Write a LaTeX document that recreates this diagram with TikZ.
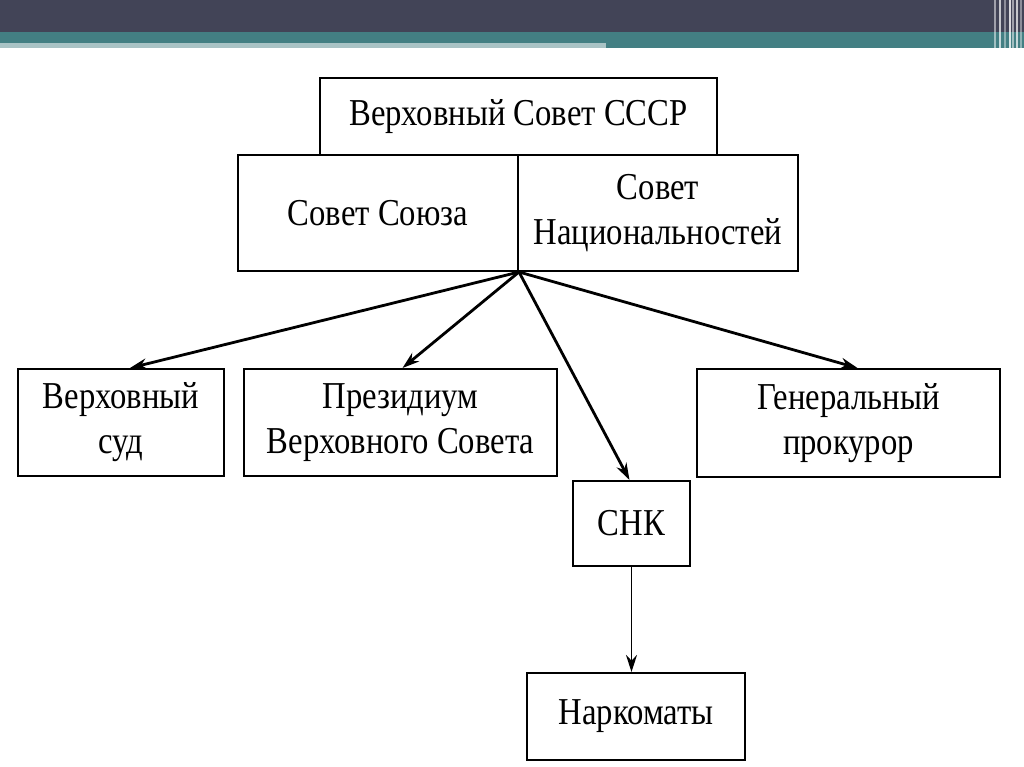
\documentclass[tikz,border=0pt]{standalone}
\usepackage{fontspec}
\setmainfont[FakeStretch=0.86]{Liberation Serif}
\usetikzlibrary{arrows.meta,positioning}
\definecolor{barDark}{HTML}{424457}
\definecolor{barTeal}{HTML}{437F83}
\definecolor{barLight}{HTML}{A9C3C5}
\begin{document}
\begin{tikzpicture}[x=1pt,y=-1pt,>={Stealth[length=17pt,width=11pt]},
  organ/.style={draw,line width=2pt,inner sep=0pt,align=center,
    font=\fontsize{38}{45}\selectfont},
  link/.style={->,line width=2.8pt}]
  \useasboundingbox (0,0) rectangle (1024,767);
  % slide header
  \fill[barDark] (0,0) rectangle (1024,32);
  \fill[barTeal] (0,32) rectangle (1024,48);
  \fill[barLight] (0,43) rectangle (606,48);
  \foreach \xs/\op in {995/0.5,1000/0.7,1005/0.4,1010/0.8,1013/0.5,1017/0.7,1021/0.4}
    \draw[white,opacity=\op,line width=1.2pt] (\xs,0) -- (\xs,48);
  % organs
  \node[organ,minimum width=397pt,minimum height=77pt] (sovet) at (518.5,116.5)
    {Верховный Совет СССР};
  \node[organ,minimum width=280pt,minimum height=116pt] (soyuz) at (378,213)
    {Совет Союза};
  \node[organ,minimum width=280pt,minimum height=116pt] (nats) at (658,213)
    {Совет\\Национальностей};
  \node[organ,minimum width=206pt,minimum height=107pt] (sud) at (121,422.5)
    {Верховный\\суд};
  \node[organ,minimum width=313pt,minimum height=107pt] (prez) at (400.5,422.5)
    {Президиум\\Верховного Совета};
  \node[organ,minimum width=303pt,minimum height=108pt] (prok) at (848.5,423)
    {Генеральный\\прокурор};
  \node[organ,minimum width=117pt,minimum height=85pt] (snk) at (631.5,523.5)
    {СНК};
  \node[organ,minimum width=218pt,minimum height=87pt] (nark) at (636,716.5)
    {Наркоматы};
  % links
  \coordinate (src) at (soyuz.south east);
  \draw[link] (src) -- ([xshift=9pt]sud.north);
  \draw[link] (src) -- ([xshift=2pt]prez.north);
  \draw[link] (src) -- ([xshift=-2pt]snk.north);
  \draw[link] (src) -- ([xshift=9pt]prok.north);
  \draw[->,line width=1.6pt] (snk.south) -- (snk.south |- nark.north);
\end{tikzpicture}
\end{document}
